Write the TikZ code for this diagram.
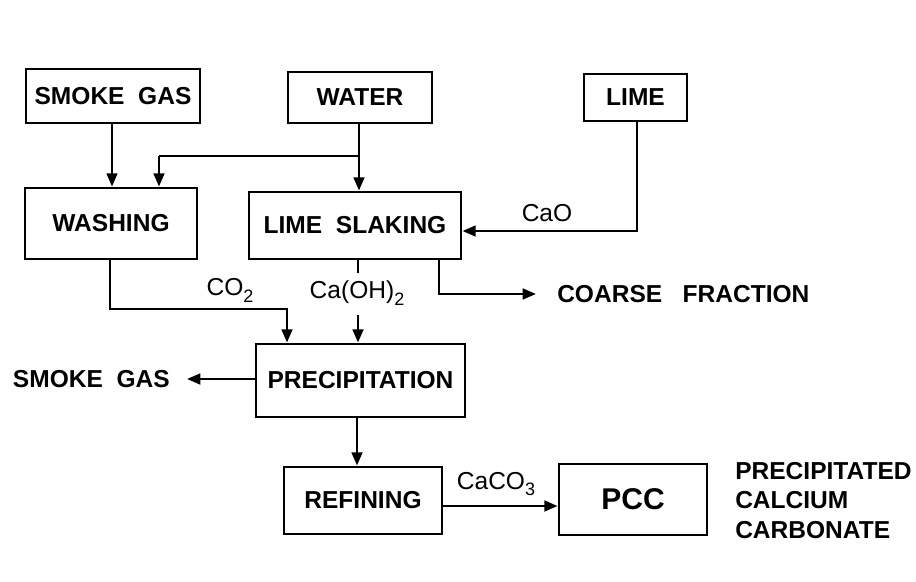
\documentclass[tikz,border=0pt]{standalone}
\usepackage{fontspec}
\setmainfont{Liberation Sans}
\usetikzlibrary{arrows.meta}
\newcommand\chemsub[1]{\raisebox{-0.28em}{\fontsize{13.5}{14}\selectfont #1}}
\begin{document}
\begin{tikzpicture}[x=0.75pt,y=-0.75pt,
  box/.style={draw,line width=2.1pt,font=\bfseries\fontsize{18.4}{20}\selectfont,inner sep=0pt},
  lbl/.style={font=\fontsize{18.4}{20}\selectfont,inner sep=0pt},
  outtxt/.style={font=\bfseries\fontsize{18.4}{20}\selectfont,inner sep=0pt},
  arr/.style={line width=2pt,-{Triangle[length=10pt,width=8pt]}},
  ln/.style={line width=2pt}]
\useasboundingbox[fill=white] (0,0) rectangle (916,581);
% boxes
\node[box,minimum width=130.5pt,minimum height=40.5pt] (sg) at (113,96) {SMOKE~~GAS};
\node[box,minimum width=108pt,minimum height=38.25pt] (water) at (360,97.5) {WATER};
\node[box,minimum width=77.25pt,minimum height=35.25pt] (lime) at (635.5,97.5) {LIME};
\node[box,minimum width=129pt,minimum height=53.25pt] (wash) at (111,223.5) {WASHING};
\node[box,minimum width=159pt,minimum height=50.25pt] (ls) at (355,225.5) {LIME~~SLAKING};
\node[box,minimum width=156.75pt,minimum height=54.75pt] (prec) at (360.5,380.5) {PRECIPITATION};
\node[box,minimum width=118.5pt,minimum height=50.25pt] (ref) at (363,500.5) {REFINING};
\node[box,minimum width=111pt,minimum height=53.25pt,font=\bfseries\fontsize{22.5}{24}\selectfont] (pcc) at (633,499.5) {PCC};
% outside texts
\node[outtxt,anchor=west] (cf) at (557,294) {COARSE~~~FRACTION};
\node[outtxt,anchor=east] (sgout) at (170,379) {SMOKE~~GAS};
\node[outtxt,anchor=north west,align=left,font=\bfseries\fontsize{18.4}{22}\selectfont] (pccname) at (735,462) {PRECIPITATED\\CALCIUM\\CARBONATE};
% labels
\node[lbl] (cao) at (547,213) {CaO};
\node[lbl] (co2) at (230,290) {CO\chemsub{2}};
\node[lbl] (caoh) at (357,293) {Ca(OH)\chemsub{2}};
\node[lbl] (caco3) at (496,484) {CaCO\chemsub{3}};
% coordinates
\coordinate (wb) at (359,156);
\coordinate (wl) at (159,156);
\coordinate (lc) at (637,231);
\coordinate (wc) at (287,309);
\coordinate (c1) at (358,273);
\coordinate (c2) at (358,315);
\coordinate (cfe) at (536,294);
\coordinate (sge) at (187,379);
% connectors
\draw[arr] (sg.south -| 112,0) -- (112,0 |- wash.north);
\draw[arr] (water.south -| wb) -- (wb |- ls.north);
\draw[ln] (wb) -- (wl);
\draw[arr] (wl) -- (wl |- wash.north);
\draw[arr] (lime.south -| lc) -- (lc) -- (lc -| ls.east);
\draw[arr] (wash.south -| 110,0) |- (wc) -- (wc |- prec.north);
\draw[ln] (ls.south -| c1) -- (c1);
\draw[arr] (c2) -- (c2 |- prec.north);
\draw[arr] (ls.south -| 439,0) |- (cfe);
\draw[arr] (prec.west |- sge) -- (sge);
\draw[arr] (prec.south -| 357,0) -- (357,0 |- ref.north);
\draw[arr] (ref.east |- 0,506) -- (pcc.west |- 0,506);
\end{tikzpicture}
\end{document}
